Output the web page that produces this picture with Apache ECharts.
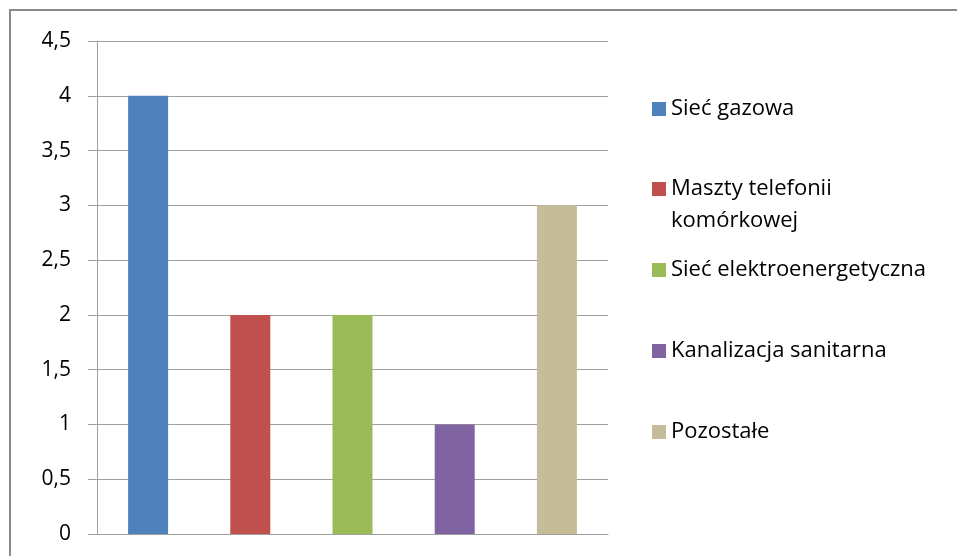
<!DOCTYPE html>
<html>
<head>
<meta charset="utf-8">
<script src="https://cdn.jsdelivr.net/npm/echarts@6/dist/echarts.min.js"></script>
<style>
  html, body { margin: 0; padding: 0; background: #fff; }
  #chart { width: 957px; height: 556px; }
</style>
</head>
<body>
<div id="chart"></div>
<script>
// dane
const categories = ['Sieć gazowa', 'Maszty telefonii komórkowej', 'Sieć elektroenergetyczna', 'Kanalizacja sanitarna', 'Pozostałe']
const values = [4, 2, 2, 1, 3]
const colors = ['#4F81BD', '#C0504D', '#9BBB59', '#8064A2', '#C4BD97']
const yTicks = { min: 0, max: 4.5, step: 0.5 }

const FONT = 'Open Sans'
const LINE_H = 32
const ICON = 14
const legendCenters = [109, 189, 270, 351, 432] // środki ikon legendy (px)

const chart = echarts.init(document.getElementById('chart'))

// każda kategoria jako osobna seria, żeby legenda pokazywała kolory
const series = categories.map((name, i) => ({
  name,
  type: 'bar',
  barWidth: 40,
  barGap: '-100%',
  itemStyle: { color: colors[i] },
  data: values.map((v, j) => (j === i ? v : '-'))
}))

// osobna legenda dla każdej pozycji, żeby trzymać odstępy jak w oryginale
const legends = categories.map((name, i) => {
  const twoLines = name.indexOf('komórkowej') >= 0
  // tekst jest wyśrodkowany na ikonie, więc dla dwóch linii dokładamy pustą linię u góry
  const nLines = twoLines ? 3 : 1
  const offset = nLines * LINE_H / 2 - ICON / 2
  return {
    data: [name],
    orient: 'vertical',
    left: 652,
    top: legendCenters[i] - ICON / 2 - offset,
    padding: 0,
    itemWidth: ICON,
    itemHeight: ICON,
    icon: 'rect',
    selectedMode: false,
    formatter: n => (twoLines ? '\n' + n.replace(' komórkowej', '\nkomórkowej') : n),
    textStyle: {
      fontFamily: FONT,
      fontSize: 22,
      color: '#000',
      lineHeight: LINE_H
    }
  }
})

chart.setOption({
  animation: false,
  graphic: [{
    type: 'rect',
    shape: { x: 10, y: 10, width: 980, height: 600 },
    style: { fill: 'none', stroke: '#8a8a8a', lineWidth: 2 },
    silent: true
  }],
  grid: { left: 97, right: 349, top: 41, bottom: 22 },
  legend: legends,
  xAxis: {
    type: 'category',
    data: categories,
    axisLine: { lineStyle: { color: '#a0a0a0', width: 1 } },
    axisTick: { show: false },
    axisLabel: { show: false }
  },
  yAxis: {
    type: 'value',
    min: yTicks.min,
    max: yTicks.max,
    interval: yTicks.step,
    axisLine: { show: true, lineStyle: { color: '#a0a0a0', width: 1 } },
    axisTick: { show: true, length: 9, lineStyle: { color: '#a0a0a0' } },
    splitLine: { lineStyle: { color: '#a0a0a0', width: 1 } },
    axisLabel: {
      margin: 26,
      fontFamily: FONT,
      fontSize: 21,
      color: '#000',
      formatter: v => String(v).replace('.', ',')
    }
  },
  series
})
</script>
</body>
</html>
